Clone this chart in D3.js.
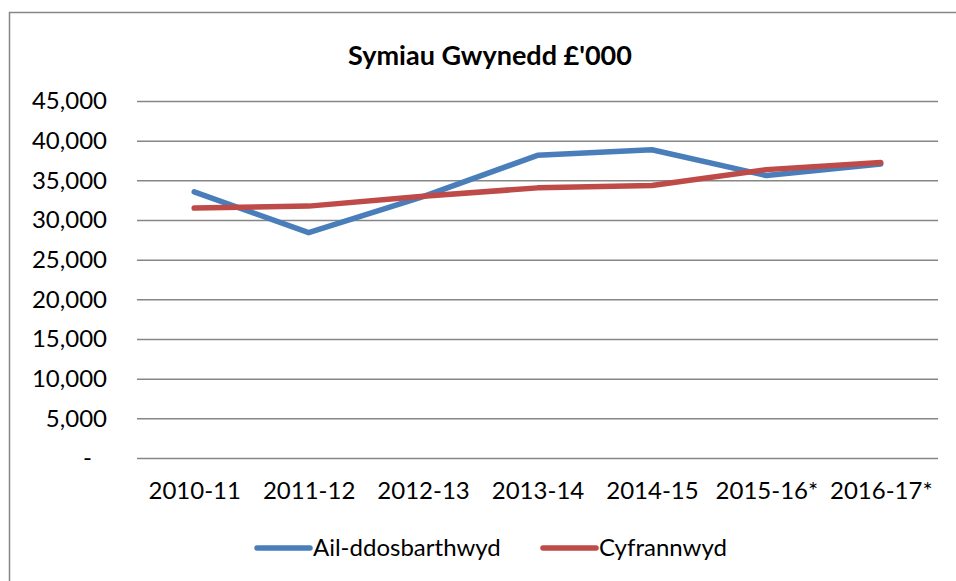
<!DOCTYPE html>
<meta charset="utf-8">
<script src="https://d3js.org/d3.v7.min.js"></script>
<style>
  body { margin: 0; background: #fff; }
  text { font-family: Lato, "Open Sans", sans-serif; fill: #000; }
</style>
<div id="chart"></div>
<script>

// categories and series values (in £'000)
var years = ["2010-11", "2011-12", "2012-13", "2013-14", "2014-15", "2015-16*", "2016-17*"];
var ailddosbarthwyd = [33550, 28400, 32950, 38150, 38850, 35600, 37050];
var cyfrannwyd = [31500, 31750, 33000, 34050, 34350, 36350, 37250];
var yTicks = [0, 5000, 10000, 15000, 20000, 25000, 30000, 35000, 40000, 45000];
var seriesNames = ["Ail-ddosbarthwyd", "Cyfrannwyd"];
var seriesColors = ["#4a7ebb", "#be4b48"];

var W = 956, H = 581;
var margin = {top: 101, right: 18, bottom: 123, left: 137},
    width = W - margin.left - margin.right,
    height = H - margin.top - margin.bottom;

var svg = d3.select("#chart")
  .append("svg")
    .attr("width", W)
    .attr("height", H);

// outer chart border
svg.append("rect")
  .attr("x", 9.5)
  .attr("y", 12.5)
  .attr("width", W)
  .attr("height", H)
  .attr("fill", "none")
  .attr("stroke", "#868686")
  .attr("stroke-width", 1.5);

svg.append("text")
  .attr("x", 490)
  .attr("y", 65)
  .attr("text-anchor", "middle")
  .style("font-weight", "bold")
  .style("font-size", "27px")
  .text("Symiau Gwynedd £'000");

var g = svg.append("g")
  .attr("transform", "translate(" + margin.left + "," + margin.top + ")");

var x = d3.scalePoint()
  .domain(years)
  .range([0, width])
  .padding(0.5);

var y = d3.scaleLinear()
  .domain([0, 45000])
  .range([height, 0]);

// gridlines + y labels
var yAxis = d3.axisLeft(y)
  .tickValues(yTicks)
  .tickSize(-width)
  .tickPadding(30)
  .tickFormat(function(d) { return d === 0 ? "-" : d3.format(",")(d); });

var ya = g.append("g").call(yAxis);
ya.select(".domain").remove();
ya.selectAll(".tick line")
  .attr("stroke", "#868686")
  .attr("stroke-width", 1.5);
ya.selectAll(".tick text")
  .style("font-size", "24px")
  .attr("x", -30);
ya.selectAll(".tick text")
  .filter(function(d) { return d === 0; })
  .attr("x", -45);

// x labels
var xa = g.append("g")
  .attr("transform", "translate(0," + height + ")")
  .call(d3.axisBottom(x).tickSize(0).tickPadding(24));
xa.select(".domain").remove();
xa.selectAll(".tick text")
  .style("font-size", "24px");

var line = d3.line()
  .x(function(d, i) { return x(years[i]); })
  .y(function(d) { return y(d); });

[ailddosbarthwyd, cyfrannwyd].forEach(function(vals, i) {
  g.append("path")
    .datum(vals)
    .attr("d", line)
    .attr("fill", "none")
    .attr("stroke", seriesColors[i])
    .attr("stroke-width", 5.5)
    .attr("stroke-linecap", "round")
    .attr("stroke-linejoin", "round");
});

// legend
var legendX = [257, 543];
var legend = svg.append("g");
seriesNames.forEach(function(name, i) {
  legend.append("line")
    .attr("x1", legendX[i])
    .attr("x2", legendX[i] + 53)
    .attr("y1", 548)
    .attr("y2", 548)
    .attr("stroke", seriesColors[i])
    .attr("stroke-width", 5.5)
    .attr("stroke-linecap", "round");
  legend.append("text")
    .attr("x", legendX[i] + 56)
    .attr("y", 548)
    .attr("dy", "0.35em")
    .style("font-size", "24px")
    .text(name);
});

</script>
